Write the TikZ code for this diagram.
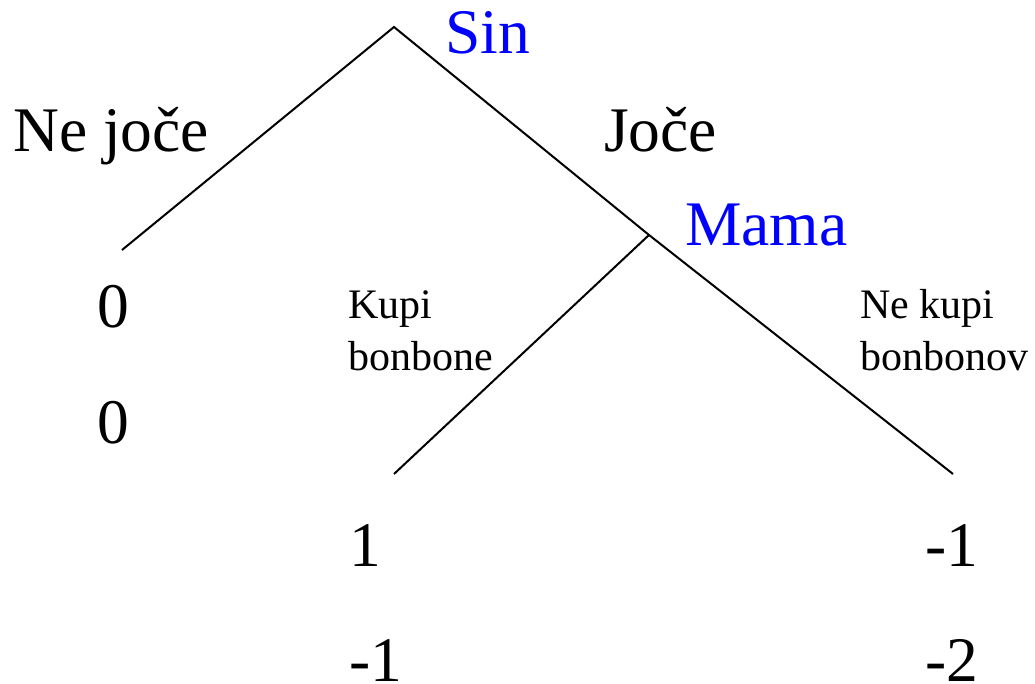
\documentclass[tikz,border=0pt]{standalone}
\usepackage{fontspec}
\setmainfont{Liberation Serif}
\begin{document}
\begin{tikzpicture}[x=1pt,y=-1pt,
  edge/.style={line width=2pt,black},
  big/.style={inner sep=0pt,anchor=base west,font=\fontsize{63.5pt}{74pt}\selectfont},
  player/.style={big,text={rgb,255:red,0;green,0;blue,255}},
  small/.style={inner sep=0pt,anchor=base west,align=left,font=\fontsize{42pt}{52pt}\selectfont}]
\useasboundingbox (0,0) rectangle (1035,684);
\coordinate (root) at (394,27);
\coordinate (mama) at (649,235);
\coordinate (l0) at (122,250);
\coordinate (l1) at (394,474);
\coordinate (l2) at (953,474);
\draw[edge] (l0) -- (root) -- (mama) -- (l2);
\draw[edge] (mama) -- (l1);
\node[player] (sin) at (445,54) {Sin};
\node[player] (mamalbl) at (685,246) {Mama};
\node[big] (nejoce) at (13,152) {Ne joče};
\node[big] (joce) at (604,152) {Joče};
\node[small] (kupi) at (348,370) {Kupi\\bonbone};
\node[small] (nekupi) at (860,370) {Ne kupi\\bonbonov};
\node[big] (a1) at (97,327) {0};
\node[big] (a2) at (97,443) {0};
\node[big] (b1) at (349,566) {1};
\node[big] (b2) at (349,681) {-1};
\node[big] (c1) at (925,566) {-1};
\node[big] (c2) at (925,681) {-2};
\end{tikzpicture}
\end{document}
